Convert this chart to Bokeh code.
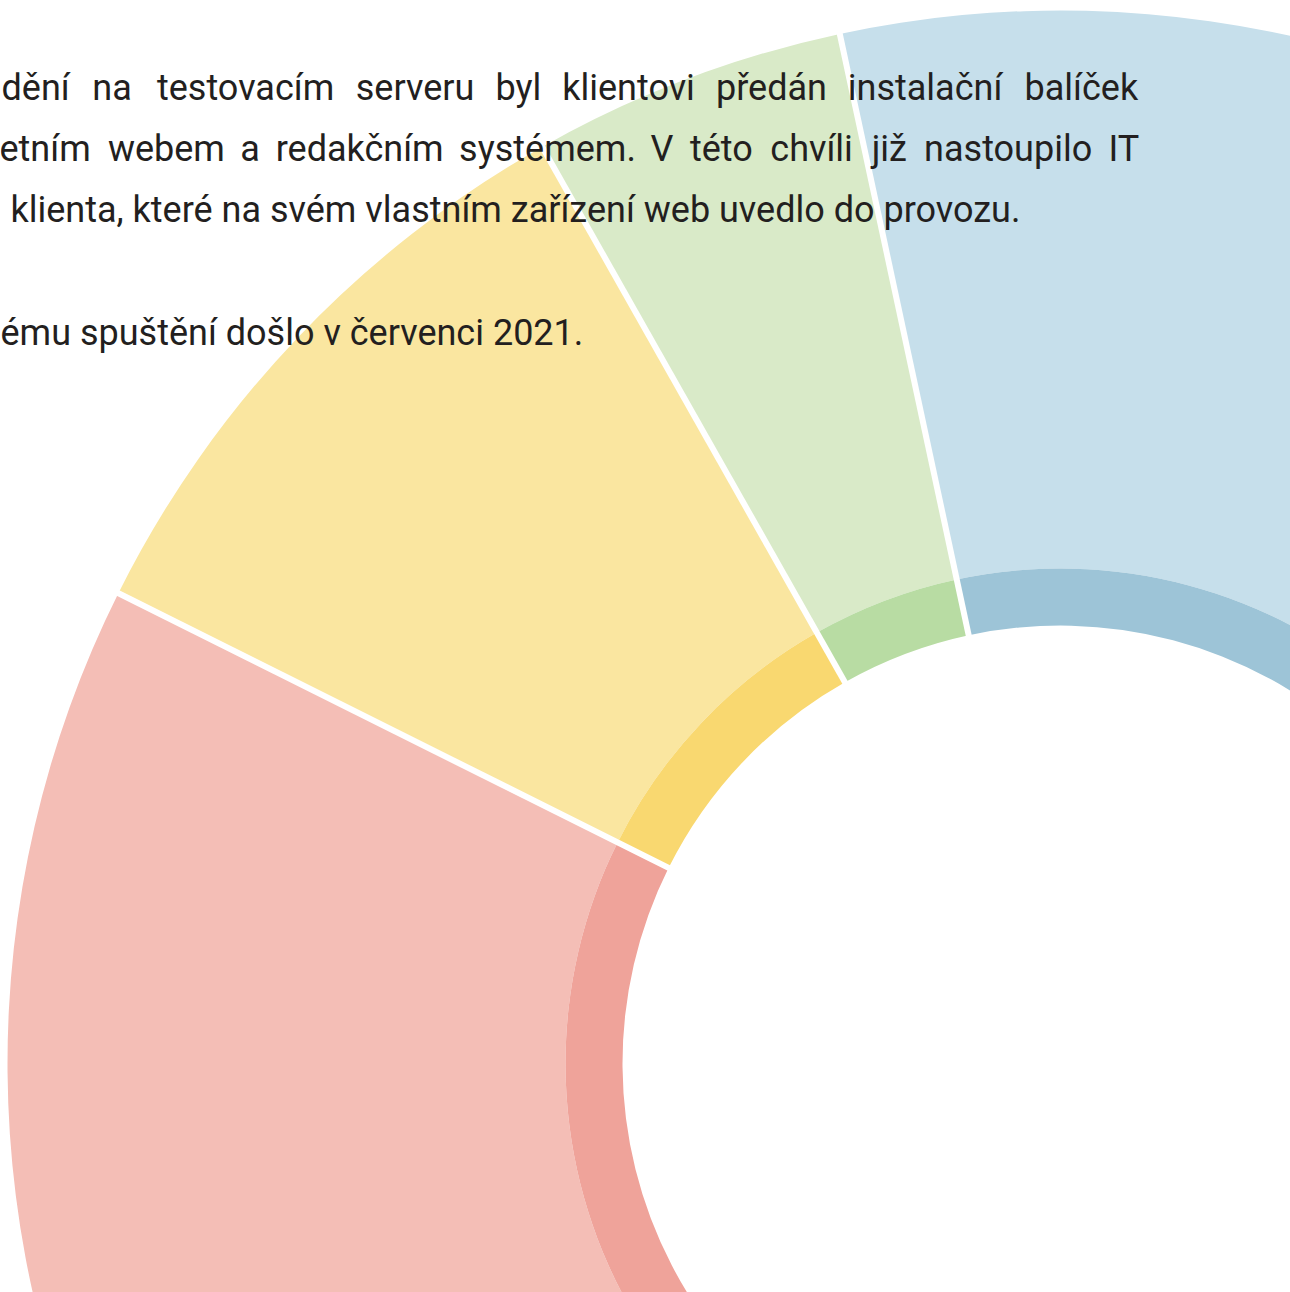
import numpy as np
from bokeh.plotting import figure
from bokeh.models import Range1d, ColumnDataSource
from bokeh.core.properties import value
from bokeh.embed import file_html
from bokeh.resources import INLINE

# ---- data ----
segments = ["Modrá", "Zelená", "Žlutá", "Červená", "Ostatní"]
shares = [30.0, 4.83, 9.44, 30.0, 25.73]          # percent of the full donut
light_colors = ["#c6dfeb", "#d9eac8", "#fae6a0", "#f4beb6", "#d8cfe6"]
dark_colors = ["#9dc4d7", "#b8dca3", "#f9d870", "#efa39a", "#bfb1d8"]

line1 = "dění na testovacím serveru byl klientovi předán instalační balíček"
line2 = "etním webem a redakčním systémem. V této chvíli již nastoupilo IT"
line3 = "klienta, které na svém vlastním zařízení web uvedlo do provozu."
line5 = "ému spuštění došlo v červenci 2021."

# ---- layout ----
W, H = 1290, 1292
# approximate rendered widths of each word (Roboto 36px), used to justify
line1_w = [69, 43, 177, 118, 45, 132, 110, 155, 114]
line2_w = [92, 116, 19, 167, 175, 23, 64, 85, 36, 168, 30]
left_edge, right_edge = 1, 1138
base1, base2, base3, base5 = 87, 148, 209, 332
font = value("Roboto")
fsize = "36px"
tcol = "#231f20"


def justify(widths, x0, x1):
    gap = (x1 - x0 - sum(widths)) / (len(widths) - 1)
    xs, x = [], x0
    for w in widths:
        xs.append(x)
        x += w + gap
    return xs


cx, cy = 1060, H - 1063
r_hole, r_band, r_outer = 438, 495, 1053
start_deg = -5.9

vals = np.array(shares)
ends = start_deg + np.cumsum(vals) * 3.6
starts = ends - vals * 3.6
src = ColumnDataSource(dict(
    seg=segments,
    start=np.deg2rad(starts), end=np.deg2rad(ends),
    light=light_colors, dark=dark_colors,
))

p = figure(width=W, height=H, output_backend="svg", toolbar_location=None,
           x_range=Range1d(0, W), y_range=Range1d(0, H),
           x_axis_type=None, y_axis_type=None, min_border=0,
           background_fill_color="white", border_fill_color="white")
p.outline_line_color = None
p.grid.visible = False

p.annular_wedge(x=cx, y=cy, inner_radius=r_band, outer_radius=r_outer,
                start_angle="start", end_angle="end", fill_color="light",
                line_color=None, source=src)
p.annular_wedge(x=cx, y=cy, inner_radius=r_hole, outer_radius=r_band,
                start_angle="start", end_angle="end", fill_color="dark",
                line_color=None, source=src)
p.ray(x=cx, y=cy, length=r_outer + 20, angle="start", source=src,
      line_color="white", line_width=6)

w1 = line1.split(" ")
w2 = line2.split(" ")
words = w1 + w2
xs = justify(line1_w, left_edge, right_edge) + justify(line2_w, -1, right_edge)
ys = [H - base1] * len(w1) + [H - base2] * len(w2)
p.text(x=xs, y=ys, text=words, text_font=font, text_font_size=fsize,
       text_color=tcol, text_align="left", text_baseline="alphabetic")
p.text(x=[10, 0], y=[H - base3, H - base5], text=[line3, line5],
       text_font=font, text_font_size=fsize, text_color=tcol,
       text_align="left", text_baseline="alphabetic")

open("out.html", "w").write(file_html(p, INLINE))
